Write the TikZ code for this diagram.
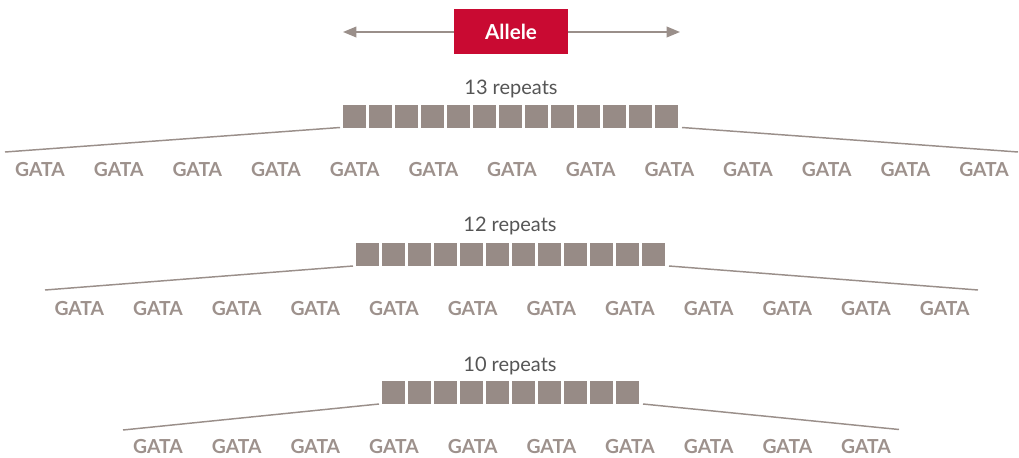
\documentclass[tikz,border=0pt]{standalone}
\usepackage{fontspec}
\setmainfont{Lato}
\usetikzlibrary{arrows.meta}
\definecolor{boxgray}{HTML}{978B86}
\definecolor{linegray}{HTML}{9A8F8A}
\definecolor{textgray}{HTML}{9D918C}
\definecolor{darktext}{HTML}{555555}
\definecolor{allelered}{HTML}{C90A32}
\tikzset{
  x=0.75pt, y=-0.75pt,
  repbox/.style={fill=boxgray, draw=none, minimum width=23*0.75pt, minimum height=23*0.75pt, inner sep=0pt, anchor=south west},
  gata/.style={text=textgray, font=\fontsize{14.5}{16}\selectfont\bfseries, anchor=base, inner sep=0pt},
  replabel/.style={text=darktext, font=\fontsize{15}{17}\selectfont, anchor=base, inner sep=0pt},
  fanline/.style={draw=linegray, line width=1.1pt},
  allelebox/.style={fill=allelered, text=white, font=\fontsize{15.5}{17}\selectfont\bfseries, minimum width=114*0.75pt, minimum height=45*0.75pt, inner sep=0pt},
  span/.style={draw=linegray, line width=1.1pt, -{Triangle[length=10pt,width=8pt]}}
}
\begin{document}
\begin{tikzpicture}
\useasboundingbox (0,0) rectangle (1019,457);
% Allele
\node[allelebox] (allele) at (511,31.5) {Allele};
\coordinate (al) at (343,32);
\coordinate (ar) at (680,32);
\draw[span] (allele.west |- al) -- (al);
\draw[span] (allele.east |- ar) -- (ar);

% Row 1: 13 repeats
\node[replabel] (lab1) at (511,94) {13 repeats};
\foreach \i in {0,...,12} {
  \node[repbox] (ra\i) at ({343+26*\i},128) {};
}
\coordinate (la1) at (5,152);
\coordinate (lb1) at (340,127.5);
\coordinate (rb1) at (682,127.5);
\coordinate (ra1e) at (1018,152);
\draw[fanline] (la1) -- (lb1);
\draw[fanline] (rb1) -- (ra1e);
\foreach \i in {0,...,12} {
  \node[gata] (ga\i) at ({40+78.67*\i},176) {GATA};
}

% Row 2: 12 repeats
\node[replabel] (lab2) at (510,231) {12 repeats};
\foreach \i in {0,...,11} {
  \node[repbox] (rb\i) at ({356+26*\i},266) {};
}
\coordinate (la2) at (45,290);
\coordinate (lb2) at (353,266);
\coordinate (rb2) at (669,266);
\coordinate (ra2e) at (978,290);
\draw[fanline] (la2) -- (lb2);
\draw[fanline] (rb2) -- (ra2e);
\foreach \i in {0,...,11} {
  \node[gata] (gb\i) at ({79.3+78.67*\i},315) {GATA};
}

% Row 3: 10 repeats
\node[replabel] (lab3) at (510,371) {10 repeats};
\foreach \i in {0,...,9} {
  \node[repbox] (rc\i) at ({382+26*\i},404.5) {};
}
\coordinate (la3) at (123,430);
\coordinate (lb3) at (379,404);
\coordinate (rb3) at (643,404);
\coordinate (ra3e) at (899,429.5);
\draw[fanline] (la3) -- (lb3);
\draw[fanline] (rb3) -- (ra3e);
\foreach \i in {0,...,9} {
  \node[gata] (gc\i) at ({158+78.67*\i},453) {GATA};
}
\end{tikzpicture}
\end{document}
